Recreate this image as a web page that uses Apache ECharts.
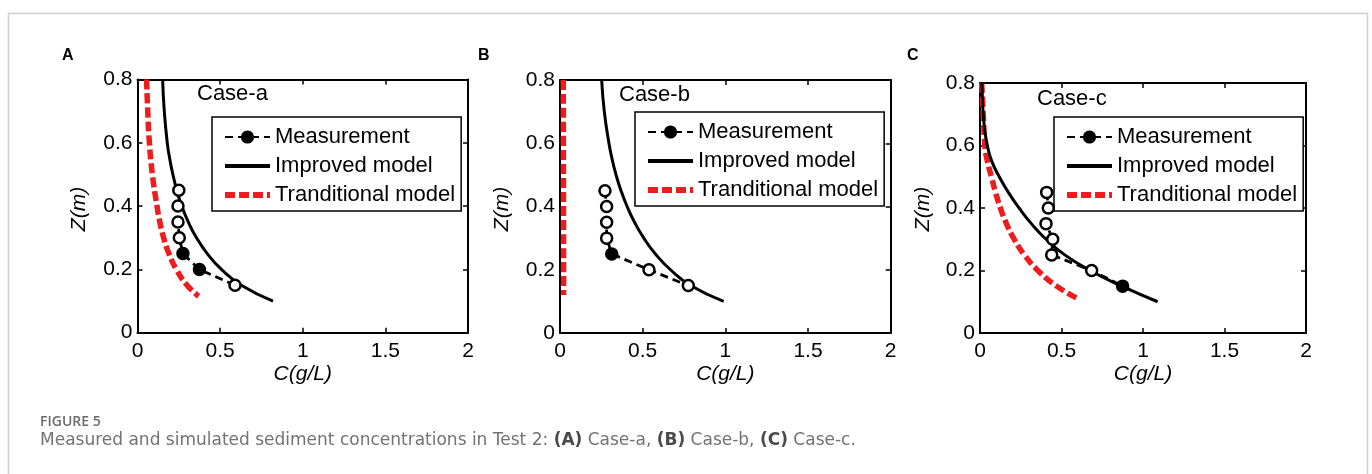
<!DOCTYPE html>
<html>
<head>
<meta charset="utf-8">
<script src="https://cdn.jsdelivr.net/npm/echarts@6/dist/echarts.min.js"></script>
<style>
  html, body { margin: 0; padding: 0; background: #fff; }
  #chart { width: 1372px; height: 474px; }
</style>
</head>
<body>
<div id="chart"></div>
<script>
// Axis ticks
const xTicks = [0, 0.5, 1, 1.5, 2];
const yTicks = [0, 0.2, 0.4, 0.6, 0.8];

// Measured sediment concentration (g/L) at depth Z (m)
const measZ = [0.45, 0.40, 0.35, 0.30, 0.25, 0.20, 0.15];
const measA = [0.250, 0.245, 0.245, 0.253, 0.275, 0.375, 0.590];
const measB = [0.272, 0.282, 0.282, 0.282, 0.313, 0.538, 0.776];
const measC = [0.409, 0.419, 0.405, 0.446, 0.440, 0.685, 0.875];
// which measurement markers are drawn solid
const solidA = [false, false, false, false, true, true, false];
const solidB = [false, false, false, false, true, false, false];
const solidC = [false, false, false, false, false, false, true];

// Improved model profiles
const impZA = [0.8, 0.7, 0.6, 0.55, 0.5, 0.45, 0.4, 0.35, 0.3, 0.25, 0.2, 0.15, 0.1];
const impA  = [0.152, 0.162, 0.180, 0.195, 0.214, 0.238, 0.268, 0.307, 0.357, 0.422, 0.508, 0.628, 0.820];
const impZB = [0.8, 0.7, 0.6, 0.55, 0.5, 0.45, 0.4, 0.35, 0.3, 0.25, 0.2, 0.15, 0.1];
const impB  = [0.252, 0.268, 0.296, 0.315, 0.339, 0.369, 0.406, 0.451, 0.507, 0.577, 0.668, 0.790, 0.990];
const impZC = [0.8, 0.75, 0.7, 0.65, 0.6, 0.55, 0.5, 0.45, 0.4, 0.35, 0.3, 0.25, 0.2, 0.15, 0.1];
const impC  = [0.012, 0.015, 0.020, 0.029, 0.045, 0.072, 0.118, 0.174, 0.240, 0.315, 0.405, 0.520, 0.675, 0.870, 1.090];

// Traditional model profiles
const tradZA = [0.8, 0.7, 0.6, 0.5, 0.4, 0.35, 0.3, 0.25, 0.2, 0.15, 0.115];
const tradA  = [0.055, 0.062, 0.072, 0.090, 0.118, 0.135, 0.158, 0.190, 0.235, 0.300, 0.370];
const tradZB = [0.8, 0.12];
const tradB  = [0.020, 0.022];
const tradZC = [0.8, 0.7, 0.6, 0.55, 0.5, 0.45, 0.4, 0.35, 0.3, 0.25, 0.2, 0.15, 0.11];
const tradC  = [0.010, 0.020, 0.030, 0.045, 0.070, 0.095, 0.125, 0.162, 0.210, 0.272, 0.355, 0.470, 0.600];

const caseNames = ['Case-a', 'Case-b', 'Case-c'];
const panelTags = ['A', 'B', 'C'];
const seriesNames = ['Measurement', 'Improved model', 'Tranditional model'];

const panels = [
  { meas: measA, solid: solidA, impZ: impZA, imp: impA, tradZ: tradZA, trad: tradA },
  { meas: measB, solid: solidB, impZ: impZB, imp: impB, tradZ: tradZB, trad: tradB },
  { meas: measC, solid: solidC, impZ: impZC, imp: impC, tradZ: tradZC, trad: tradC }
];

// Layout of each panel
const layout = [
  { grid: { left: 137.5, top: 79.5, width: 330.5, height: 253.2 }, legend: { left: 212, top: 117 }, caseText: { x: 197, y: 95 }, tag: { x: 62, y: 56 }, zName: { x: 79, y: 209 } },
  { grid: { left: 560, top: 80, width: 330.7, height: 253 },       legend: { left: 635, top: 112 }, caseText: { x: 619, y: 96 }, tag: { x: 478, y: 56 }, zName: { x: 502, y: 209 } },
  { grid: { left: 980, top: 83, width: 326, height: 250 },         legend: { left: 1054, top: 117 }, caseText: { x: 1037, y: 100 }, tag: { x: 907, y: 56 }, zName: { x: 923, y: 209 } }
];

const FONT = 'Arial, "Liberation Sans", sans-serif';
const axisLine = { show: true, onZero: false, lineStyle: { color: '#000', width: 2 } };
const tickIn = { show: true, inside: true, length: 5, lineStyle: { color: '#000', width: 1.5 } };

const grids = [], xAxes = [], yAxes = [], series = [], legends = [], graphics = [];

function pairs(cs, zs) { return cs.map((c, i) => [c, zs[i]]); }

layout.forEach((L, p) => {
  grids.push(L.grid);
  const xBase = {
    gridIndex: p, type: 'value', min: xTicks[0], max: xTicks[xTicks.length - 1], interval: 0.5,
    axisLine, axisTick: tickIn, splitLine: { show: false }
  };
  const yBase = {
    gridIndex: p, type: 'value', min: yTicks[0], max: yTicks[yTicks.length - 1], interval: 0.2,
    axisLine, axisTick: tickIn, splitLine: { show: false }
  };
  xAxes.push(Object.assign({}, xBase, {
    position: 'bottom',
    axisLabel: { color: '#000', fontSize: 21, fontFamily: FONT, margin: 8, showMinLabel: true, showMaxLabel: true }
  }));
  xAxes.push(Object.assign({}, xBase, { position: 'top', axisLabel: { show: false } }));
  yAxes.push(Object.assign({}, yBase, {
    position: 'left',
    axisLabel: { color: '#000', fontSize: 21, fontFamily: FONT, margin: 5, showMinLabel: true, showMaxLabel: true }
  }));
  yAxes.push(Object.assign({}, yBase, { position: 'right', axisLabel: { show: false } }));

  const P = panels[p];
  const xi = p * 2, yi = p * 2;

  series.push({
    name: seriesNames[2], type: 'line', xAxisIndex: xi, yAxisIndex: yi,
    data: pairs(P.trad, P.tradZ), showSymbol: false, symbol: 'none',
    smooth: 0.5,
    lineStyle: { color: '#ee1c1c', width: 5.5, type: [10, 4] },
    itemStyle: { color: '#ee1c1c' }, z: 2
  });
  series.push({
    name: seriesNames[1], type: 'line', xAxisIndex: xi, yAxisIndex: yi,
    data: pairs(P.imp, P.impZ), showSymbol: false, symbol: 'none',
    smooth: 0.5,
    lineStyle: { color: '#000', width: 3 },
    itemStyle: { color: '#000' }, z: 3
  });
  series.push({
    name: seriesNames[0], type: 'line', xAxisIndex: xi, yAxisIndex: yi,
    data: P.meas.map((c, i) => ({
      value: [c, measZ[i]],
      itemStyle: { color: P.solid[i] ? '#000' : '#fff' }
    })),
    symbol: 'circle', symbolSize: 11, showSymbol: true,
    lineStyle: { color: '#000', width: 2.8, type: [8, 5] },
    itemStyle: { color: '#000', borderColor: '#000', borderWidth: 2.5 }, z: 4
  });

  legends.push({
    data: [
      { name: seriesNames[0] },
      { name: seriesNames[1], itemStyle: { opacity: 0 }, lineStyle: { width: 4 } },
      { name: seriesNames[2], itemStyle: { opacity: 0 }, lineStyle: { width: 6 } }
    ],
    orient: 'vertical', left: L.legend.left, top: L.legend.top,
    backgroundColor: '#fff', borderColor: '#000', borderWidth: 1.5, borderRadius: 0,
    padding: [9, 6, 5, 10], itemWidth: 45, itemHeight: 14, itemGap: 7,
    selectedMode: false, inactiveColor: '#000',
    textStyle: { color: '#000', fontSize: 22, fontFamily: FONT, padding: [0, 0, 0, 0] }
  });

  graphics.push({
    type: 'text', left: L.caseText.x, top: L.caseText.y - 12,
    style: { text: caseNames[p], fill: '#000', font: '22px ' + FONT }
  });
  graphics.push({
    type: 'text', left: L.tag.x, top: L.tag.y - 8,
    style: { text: panelTags[p], fill: '#000', font: 'bold 16px ' + FONT }
  });
  graphics.push({
    type: 'text', x: L.zName.x, y: L.zName.y, rotation: Math.PI / 2,
    style: { text: 'Z(m)', fill: '#000', font: 'italic 21px ' + FONT, align: 'center', verticalAlign: 'middle' }
  });
  graphics.push({
    type: 'text', x: L.grid.left + L.grid.width * 0.5, y: 374,
    style: { text: 'C(g/L)', fill: '#000', font: 'italic 21px ' + FONT, align: 'center', verticalAlign: 'middle' }
  });
});

// figure frame and caption
graphics.push({
  type: 'rect', shape: { x: 8.5, y: 13.5, width: 1359, height: 480 },
  style: { fill: 'none', stroke: '#d0d0d0', lineWidth: 1.5 }, silent: true, z: -1
});
graphics.push({
  type: 'text', left: 40, top: 415,
  style: { text: 'FIGURE 5', fill: '#6b6b6b', font: '600 14px "Open Sans", sans-serif' }
});
graphics.push({
  type: 'text', left: 40, top: 432,
  style: {
    text: 'Measured and simulated sediment concentrations in Test 2: {b|(A)} Case-a, {b|(B)} Case-b, {b|(C)} Case-c.',
    fill: '#727272', font: '17px "DejaVu Sans", sans-serif',
    rich: { b: { fill: '#4a4a4a', fontWeight: 'bold', fontSize: 17, fontFamily: '"DejaVu Sans", sans-serif' } }
  }
});

const chart = echarts.init(document.getElementById('chart'), null, { renderer: 'canvas' });
chart.setOption({
  animation: false,
  backgroundColor: '#fff',
  grid: grids,
  xAxis: xAxes,
  yAxis: yAxes,
  legend: legends,
  series: series,
  graphic: graphics
});
</script>
</body>
</html>
